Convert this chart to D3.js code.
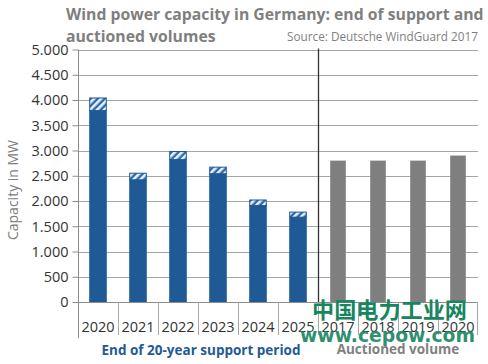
<!DOCTYPE html>
<html><head><meta charset="utf-8">
<script src="https://cdn.jsdelivr.net/npm/d3@7/dist/d3.min.js"></script>
<style>body{margin:0;background:#fff}svg{display:block}</style>
</head><body><svg id="c" width="488" height="364"></svg>
<script>
const supportYears = ["2020","2021","2022","2023","2024","2025"];
const supportSolid = [3800, 2430, 2830, 2550, 1920, 1690];
const supportHatch = [250, 130, 160, 130, 110, 100];
const auctionYears = ["2017","2018","2019","2020"];
const auctionValues = [2800, 2800, 2800, 2900];
const yTicks = [0,500,1000,1500,2000,2500,3000,3500,4000,4500,5000];
const yTickLabels = ["0","500","1.000","1.500","2.000","2.500","3.000","3.500","4.000","4.500","5.000"];

const svg = d3.select("#c");
const L = 78, R = 478, T = 49.5, B = 302;
const keys = supportYears.map((y,i)=>"s"+i).concat(auctionYears.map((y,i)=>"a"+i));
const labels = supportYears.concat(auctionYears);
const x = d3.scaleBand().domain(keys).range([L,R]).paddingInner(0.56).paddingOuter(0.28);
const xb = d3.scaleBand().domain(keys).range([L,R]);
const y = d3.scaleLinear().domain([0,5000]).range([B,T]);

const defs = svg.append("defs");
const pat = defs.append("pattern").attr("id","hatch").attr("patternUnits","userSpaceOnUse")
  .attr("width",5).attr("height",5).attr("patternTransform","rotate(45)");
pat.append("rect").attr("width",5).attr("height",5).attr("fill","#2e6aa8");
pat.append("rect").attr("width",2.6).attr("height",5).attr("fill","#e8f1fb");

// gridlines
svg.append("g").selectAll("line").data(yTicks.slice(1)).join("line")
  .attr("x1",L).attr("x2",R).attr("y1",d=>Math.round(y(d))+0.5).attr("y2",d=>Math.round(y(d))+0.5)
  .attr("stroke","#a6a6a6").attr("stroke-width",1);
// y axis
const yAxis = d3.axisLeft(y).tickValues(yTicks).tickSize(6).tickFormat((d,i)=>yTickLabels[i]);
const ga = svg.append("g").attr("transform",`translate(${L+0.5},0)`).call(yAxis);
ga.select(".domain").remove();
ga.selectAll(".tick line").attr("stroke","#8c8c8c");
ga.selectAll(".tick text").attr("font-family","Open Sans").attr("font-size",14.5).attr("fill","#333").attr("x",-10).attr("dy","0.34em");
svg.append("line").attr("x1",L+0.5).attr("x2",L+0.5).attr("y1",T).attr("y2",338).attr("stroke","#8c8c8c");
// baseline
svg.append("line").attr("x1",L).attr("x2",R).attr("y1",B+0.5).attr("y2",B+0.5).attr("stroke","#8c8c8c");
// category separators
svg.append("g").selectAll("line").data(keys.slice(1)).join("line")
  .attr("x1",d=>Math.round(xb(d))+0.5).attr("x2",d=>Math.round(xb(d))+0.5)
  .attr("y1",B).attr("y2",335).attr("stroke","#a6a6a6");
svg.append("line").attr("x1",R-0.5).attr("x2",R-0.5).attr("y1",B).attr("y2",335).attr("stroke","#a6a6a6");

// support bars
const sd = supportYears.map((yr,i)=>({k:"s"+i, solid:supportSolid[i], hatch:supportHatch[i]}));
svg.append("g").selectAll("rect").data(sd).join("rect")
  .attr("x",d=>x(d.k)).attr("width",x.bandwidth())
  .attr("y",d=>y(d.solid)).attr("height",d=>B-y(d.solid)).attr("fill","#1f5a96");
svg.append("g").selectAll("rect").data(sd).join("rect")
  .attr("x",d=>x(d.k)+0.5).attr("width",x.bandwidth()-1)
  .attr("y",d=>y(d.solid+d.hatch)+0.5).attr("height",d=>y(d.solid)-y(d.solid+d.hatch))
  .attr("fill","url(#hatch)").attr("stroke","#1f5a96").attr("stroke-width",1);
// auction bars
const ad = auctionYears.map((yr,i)=>({k:"a"+i, v:auctionValues[i]}));
svg.append("g").selectAll("rect").data(ad).join("rect")
  .attr("x",d=>x(d.k)+1).attr("width",x.bandwidth()-2)
  .attr("y",d=>y(d.v)).attr("height",d=>B-y(d.v)).attr("fill","#7f7f7f");

// divider
svg.append("line").attr("x1",318.5).attr("x2",318.5).attr("y1",T-1).attr("y2",B).attr("stroke","#333").attr("stroke-width",1.3);

// x labels
svg.append("g").selectAll("text").data(keys).join("text")
  .attr("x",d=>xb(d)+xb.bandwidth()/2).attr("y",332).attr("text-anchor","middle")
  .attr("font-family","Open Sans").attr("font-size",14.5).attr("fill","#333")
  .text((d,i)=>labels[i]);

// group labels
svg.append("text").attr("x",201).attr("y",355).attr("text-anchor","middle")
  .attr("font-family","Open Sans").attr("font-weight","bold").attr("font-size",13.5).attr("fill","#1f5a96")
  .text("End of 20-year support period");
svg.append("text").attr("x",398).attr("y",354).attr("text-anchor","middle")
  .attr("font-family","Open Sans").attr("font-weight","bold").attr("font-size",13.5).attr("fill","#7f7f7f")
  .text("Auctioned volume");

// y title
svg.append("text").attr("transform","translate(18,190) rotate(-90)").attr("text-anchor","middle")
  .attr("font-family","Open Sans").attr("font-size",14).attr("fill","#808080").text("Capacity in MW");

function fit(sel, w){ const n=sel.node(); const l=n.getComputedTextLength(); const fs=+sel.attr("font-size"); sel.attr("font-size", fs*w/l); }
// title
const t1 = svg.append("text").attr("x",66).attr("y",20).attr("font-family","Open Sans").attr("font-weight","bold")
  .attr("font-size",16).attr("fill","#7f7f7f").text("Wind power capacity in Germany: end of support and");
fit(t1, 418);
const t2 = svg.append("text").attr("x",66).attr("y",42).attr("font-family","Open Sans").attr("font-weight","bold")
  .attr("font-size",t1.attr("font-size")).attr("fill","#7f7f7f").text("auctioned volumes");
const src = svg.append("text").attr("x",287).attr("y",41).attr("font-family","Open Sans")
  .attr("font-size",11).attr("fill","#7f7f7f").text("Source: Deutsche WindGuard 2017");
fit(src, 191);

// watermark
const w1 = svg.append("text").attr("x",312).attr("y",318).attr("font-family","Noto Sans CJK SC").attr("font-weight","bold")
  .attr("font-size",22).attr("fill","#17855f").text("中国电力工业网");
fit(w1, 155);
const w2 = svg.append("text").attr("x",300).attr("y",342).attr("font-family","DejaVu Sans").attr("font-weight","bold")
  .attr("font-size",22).attr("fill","#17855f").attr("opacity",0.9).text("www.cepow.com");
fit(w2, 175);
</script></body></html>
